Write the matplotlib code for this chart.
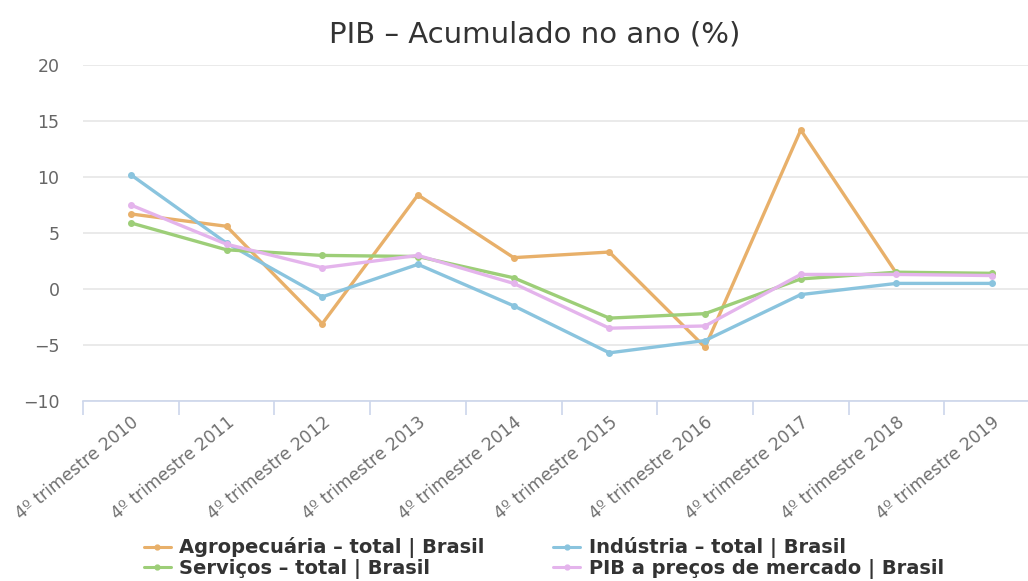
import matplotlib
matplotlib.use("Agg")
import matplotlib.pyplot as plt
import numpy as np

categories = [f"4º trimestre {y}" for y in range(2010, 2020)]
agropecuaria = [6.7, 5.6, -3.1, 8.4, 2.8, 3.3, -5.2, 14.2, 1.4, 1.3]
industria = [10.2, 4.1, -0.7, 2.2, -1.5, -5.7, -4.6, -0.5, 0.5, 0.5]
servicos = [5.9, 3.5, 3.0, 2.9, 1.0, -2.6, -2.2, 0.9, 1.5, 1.4]
pib = [7.5, 4.0, 1.9, 3.0, 0.5, -3.5, -3.3, 1.3, 1.3, 1.2]

series_names = ["Agropecuária – total | Brasil", "Indústria – total | Brasil",
                "Serviços – total | Brasil", "PIB a preços de mercado | Brasil"]
series_vals = [agropecuaria, industria, servicos, pib]
colors = ["#e8b06a", "#8ac4de", "#9dce78", "#e4b4ec"]

W, H = 1028, 581
fig = plt.figure(figsize=(W / 100, H / 100), dpi=100)
left, right, top, bottom = 83, 1040, 65, 401
ax = fig.add_axes([left / W, 1 - bottom / H, (right - left) / W, (bottom - top) / H])

x = np.arange(len(categories))
handles = []
for name, vals, c in zip(series_names, series_vals, colors):
    h, = ax.plot(x, vals, color=c, lw=2.4, marker="o", ms=4, label=name,
                 solid_capstyle="round", solid_joinstyle="round")
    handles.append(h)

ax.set_xlim(-0.5, len(categories) - 0.5)
ax.set_ylim(-10, 20)
ax.set_yticks(np.arange(-10, 21, 5))
ax.set_yticklabels([str(v).replace("-", "−") for v in range(-10, 21, 5)])
ax.grid(axis="y", color="#e6e6e6", lw=1.2)
ax.set_axisbelow(True)
for s in ["top", "right", "left"]:
    ax.spines[s].set_visible(False)
ax.spines["bottom"].set_color("#ccd6eb")
ax.spines["bottom"].set_linewidth(1.2)

ax.set_xticks(x)
ax.set_xticklabels(categories, rotation=39, ha="right", rotation_mode="anchor",
                   fontsize=12.3, color="#707070")
ax.tick_params(axis="x", which="major", length=0, pad=9)
ax.set_xticks(np.arange(-0.5, len(categories), 1), minor=True)
ax.tick_params(axis="x", which="minor", length=10, color="#ccd6eb", width=1.2)
ax.tick_params(axis="y", length=0, labelsize=12.5, labelcolor="#666666", pad=17)

fig.text(535 / W, 1 - 35 / H, "PIB – Acumulado no ano (%)", ha="center", va="center",
         fontsize=21, color="#333333")

leg = fig.legend(handles=[handles[0], handles[2], handles[1], handles[3]],
                 labels=[series_names[0], series_names[2], series_names[1], series_names[3]],
                 ncol=2, loc="center left", bbox_to_anchor=(126 / W, 1 - 558 / H),
                 frameon=False, handlelength=1.4, handletextpad=0.45,
                 columnspacing=3.5, labelspacing=0.02,
                 prop={"family": "DejaVu Sans", "weight": "bold", "size": 14})
for t in leg.get_texts():
    t.set_color("#333333")
for lh in leg.legend_handles:
    lh.set_markersize(3.5)
    lh.set_linewidth(2.2)

fig.savefig("out.png", dpi=100)
